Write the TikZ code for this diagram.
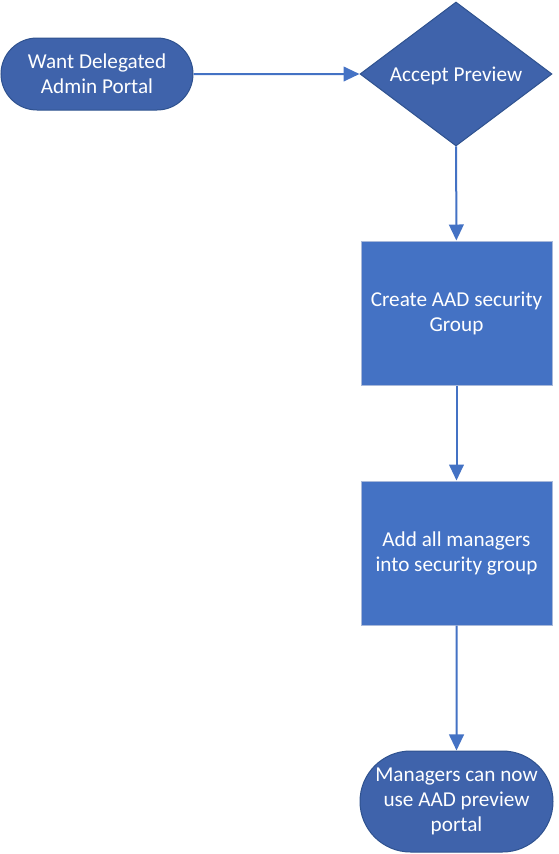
\documentclass[tikz,border=0pt]{standalone}
\usepackage{fontspec}
\setmainfont{Carlito}
\usetikzlibrary{shapes.geometric,shapes.misc,arrows.meta}
\definecolor{termfill}{HTML}{3F63AB}
\definecolor{termline}{HTML}{2F528F}
\definecolor{boxfill}{HTML}{4472C4}
\definecolor{boxline}{HTML}{A9B9DA}
\definecolor{flowline}{HTML}{4472C4}
\begin{document}
\begin{tikzpicture}[x=0.75pt,y=-0.75pt,
    every node/.style={text=white, align=center, font=\fontsize{15.9}{18.75}\selectfont},
    terminal/.style={rounded rectangle, fill=termfill, draw=termline, line width=0.75pt,
      minimum width=144pt, inner sep=0pt},
    decision/.style={diamond, fill=termfill, draw=termline, line width=0.75pt,
      minimum width=144pt, minimum height=108pt, inner sep=0pt},
    process/.style={rectangle, fill=boxfill, draw=boxline, line width=0.75pt,
      minimum width=143.25pt, minimum height=108pt, inner sep=0pt},
    flow/.style={draw=flowline, line width=1.5pt, -{Triangle[length=12pt,width=11pt]}}]
  \useasboundingbox (0,0) rectangle (559,854);
  % nodes
  \node[terminal, minimum height=54pt] (want) at (97,74) {Want Delegated\\Admin Portal};
  \node[decision] (accept) at (456,74) {};
  \node (acceptlabel) at (456,75.5) {Accept Preview};
  \node[process] (group) at (456.5,313) {Create AAD security\\Group};
  \node[process] (managers) at (456.5,553) {Add all managers\\into security group};
  \node[terminal, minimum width=144.75pt, minimum height=75.75pt] (portal) at (456.5,801.5)
    {Managers can now\\use AAD preview\\portal};
  % connectors
  \draw[flow] (want) -- (accept);
  \draw[flow] (accept) -- (group);
  \draw[flow] (group) -- (managers);
  \draw[flow] (managers) -- (portal);
\end{tikzpicture}
\end{document}
